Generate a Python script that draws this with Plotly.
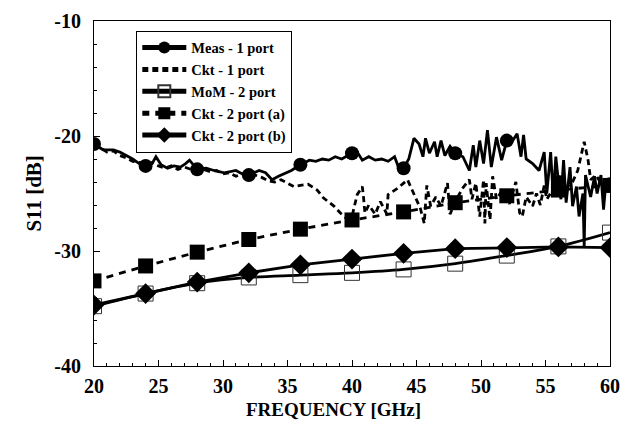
import plotly.graph_objects as go

# ---- data -------------------------------------------------------------
# Measured one-port return loss (dense sweep), GHz / dB
meas_f = [20.0, 20.7, 21.5, 22.0, 22.5, 23.0, 23.5, 24.0, 24.5, 24.8, 25.2, 25.7,
          26.2, 26.7, 27.1, 27.4, 28.0, 28.7, 29.3, 30.1, 31.0, 31.5, 32.0, 32.8,
          33.3, 33.8, 34.3, 34.9, 35.3, 36.0, 36.7, 37.2, 37.7, 38.2, 38.7, 39.2,
          40.0, 40.3, 40.8, 41.3, 41.8, 42.3, 42.8, 43.3, 43.6, 44.0, 44.4, 44.8,
          45.2, 45.5, 45.7, 46.0, 46.4, 46.6, 46.9, 47.2, 47.6, 48.0, 48.6, 49.1,
          49.4, 49.6, 49.9, 50.2, 50.5, 50.8, 51.2, 51.6, 52.0, 52.4, 52.8, 53.1,
          53.3, 53.5, 54.0, 54.5, 54.9, 55.1, 55.4, 55.6, 55.8, 56.0, 56.2, 56.4,
          56.6, 56.9, 57.1, 57.4, 57.6, 57.9, 58.0, 58.1, 58.5, 58.8, 59.0, 59.3,
          59.5, 59.7, 60.0]
meas_db = [-20.7, -21.2, -21.2, -21.4, -21.7, -22.0, -22.4, -22.6, -22.4, -21.8, -22.5, -22.8,
           -22.6, -22.7, -22.4, -22.1, -22.9, -22.8, -23.0, -23.2, -23.0, -23.3, -23.4, -23.0,
           -23.2, -23.8, -23.5, -23.2, -23.0, -22.5, -22.1, -22.2, -22.0, -22.1, -21.8, -22.0,
           -21.5, -21.2, -22.1, -21.8, -22.1, -22.0, -22.2, -21.8, -22.7, -22.8, -22.0, -20.2,
           -20.7, -21.8, -20.2, -21.5, -20.5, -21.8, -20.4, -21.7, -20.9, -21.5, -21.8, -23.0,
           -20.8, -22.7, -20.4, -22.4, -19.5, -22.7, -20.1, -22.1, -20.4, -20.5, -19.8, -21.8,
           -19.9, -22.0, -22.4, -23.0, -21.4, -25.0, -21.4, -25.3, -21.8, -24.0, -25.5, -22.1,
           -25.8, -22.7, -26.1, -24.4, -27.0, -25.0, -29.6, -23.4, -25.3, -23.5, -25.0, -23.4,
           -26.4, -23.8, -24.2]
meas_mark_f = [20, 24, 28, 32, 36, 40, 44, 48, 52, 56, 60]

# Circuit model, one port (dense sweep)
ckt1_f = [20.0, 20.5, 21.0, 21.5, 22.0, 22.5, 23.0, 23.5, 24.0, 24.5, 25.0, 25.5,
          26.0, 26.5, 27.0, 27.5, 28.0, 28.5, 29.0, 29.5, 30.0, 30.5, 31.0, 31.5,
          32.0, 32.5, 33.0, 33.5, 34.0, 34.5, 35.0, 35.5, 36.0, 36.6, 37.3, 37.8,
          38.6, 39.1, 39.6, 40.0, 40.4, 40.8, 40.9, 41.0, 41.3, 41.8, 42.2, 42.7,
          42.8, 43.6, 44.3, 45.0, 45.3, 45.6, 45.8, 46.1, 46.5, 46.9, 47.4, 47.6,
          48.1, 48.6, 49.1, 49.3, 49.6, 49.9, 50.2, 50.3, 50.4, 50.7, 50.9, 51.2,
          51.6, 52.2, 52.7, 53.0, 53.2, 53.5, 54.0, 54.3, 54.6, 54.9, 55.1, 55.6,
          56.2, 56.7, 57.1, 57.5, 57.8, 58.0, 58.3, 58.5, 58.9, 59.3, 59.7, 60.0]
ckt1_db = [-20.7, -21.0, -21.4, -21.3, -21.7, -21.9, -22.2, -22.3, -22.5, -22.3, -22.6, -22.8,
           -22.6, -22.9, -22.7, -22.9, -23.0, -22.9, -23.1, -23.0, -23.3, -23.2, -23.5, -23.3,
           -23.5, -23.4, -23.6, -23.9, -24.0, -23.8, -24.1, -24.4, -24.3, -24.2, -24.7, -25.4,
           -26.1, -26.7, -27.2, -27.0, -25.1, -24.4, -25.4, -26.7, -26.0, -26.8, -25.7, -26.8,
           -25.1, -24.5, -23.8, -25.5, -26.3, -27.6, -24.3, -26.1, -25.3, -26.1, -24.1, -26.8,
           -25.5, -24.5, -23.8, -25.5, -24.1, -27.0, -23.8, -27.6, -24.1, -27.3, -23.5, -25.5,
           -24.8, -25.9, -24.0, -26.7, -27.0, -25.3, -26.1, -25.0, -26.0, -24.3, -25.5, -24.6,
           -25.2, -24.4, -24.0, -23.0, -21.5, -20.5, -22.1, -23.8, -23.4, -24.1, -24.4, -24.3]

# Two-port results at 4 GHz steps
f4 = [20, 24, 28, 32, 36, 40, 44, 48, 52, 56, 60]
mom2_db = [-34.8, -33.7, -32.8, -32.3, -32.1, -31.9, -31.6, -31.1, -30.4, -29.6, -28.4]
ckt2a_db = [-32.6, -31.3, -30.1, -29.0, -28.1, -27.3, -26.6, -25.8, -25.2, -24.7, -24.3]
ckt2b_db = [-34.7, -33.7, -32.7, -31.9, -31.2, -30.7, -30.2, -29.8, -29.7, -29.65, -29.7]

x_ticks = [20, 25, 30, 35, 40, 45, 50, 55, 60]
y_ticks = [-40, -30, -20, -10]
y_tick_text = ["-40", "-30", "-20", "-10"]

# ---- figure -----------------------------------------------------------
FONT = "Liberation Serif"
black = "#000000"

fig = go.Figure()

# measured sweep: markers only on the 4 GHz points
meas_sizes = [14 if f in meas_mark_f else 0 for f in meas_f]
fig.add_trace(go.Scatter(
    x=meas_f, y=meas_db, mode="lines+markers", name="Meas - 1 port",
    line=dict(color=black, width=2.8),
    marker=dict(symbol="circle", size=meas_sizes, color=black, opacity=1,
                line=dict(width=0)),
))
fig.add_trace(go.Scatter(
    x=ckt1_f, y=ckt1_db, mode="lines", name="Ckt - 1 port",
    line=dict(color=black, width=2.8, dash="6px,4px"),
))
fig.add_trace(go.Scatter(
    x=f4, y=mom2_db, mode="lines+markers", name="MoM - 2 port",
    line=dict(color=black, width=2.8, shape="spline"),
    marker=dict(symbol="square-open", size=15, color="#333333", line=dict(width=1)),
))
fig.add_trace(go.Scatter(
    x=f4, y=ckt2a_db, mode="lines+markers", name="Ckt - 2 port (a)",
    line=dict(color=black, width=2.8, dash="7px,6px"),
    marker=dict(symbol="square", size=15, color=black),
))
fig.add_trace(go.Scatter(
    x=f4, y=ckt2b_db, mode="lines+markers", name="Ckt - 2 port (b)",
    line=dict(color=black, width=2.8),
    marker=dict(symbol="diamond", size=16, color=black),
))

axis_common = dict(
    showgrid=False, zeroline=False, showline=True, linecolor=black, linewidth=1,
    mirror=True, ticks="inside", tickcolor=black, ticklen=6, tickwidth=1,
    tickfont=dict(family=FONT, size=20, color=black, weight="bold"),
)

title_font = dict(family=FONT, size=19, color=black, weight="bold")

fig.update_layout(
    width=630, height=426,
    margin=dict(l=94, r=10, t=18, b=60),
    paper_bgcolor="white", plot_bgcolor="white",
    font=dict(family=FONT, color=black),
    xaxis=dict(
        range=[20, 60], tickvals=x_ticks, ticklabelstandoff=2,
        minor=dict(ticks="inside", dtick=1, ticklen=3, tickcolor=black),
        **axis_common,
    ),
    yaxis=dict(
        range=[-40, -10], tickvals=y_ticks, ticktext=y_tick_text,
        ticklabelstandoff=8,
        minor=dict(ticks="inside", dtick=2, ticklen=3, tickcolor=black),
        **axis_common,
    ),
    annotations=[
        dict(text="FREQUENCY [GHz]", xref="paper", yref="paper",
             x=0.464, y=-0.126, xanchor="center", yanchor="middle",
             showarrow=False, font=title_font),
        dict(text="S11 [dB]", xref="paper", yref="paper", textangle=-90,
             x=-0.118, y=0.5, xanchor="center", yanchor="middle",
             showarrow=False, font=dict(family=FONT, size=21, color=black,
                                        weight="bold")),
    ],
    legend=dict(
        x=0.082, y=0.972, xanchor="left", yanchor="top",
        bgcolor="white", bordercolor=black, borderwidth=1,
        font=dict(family=FONT, size=14.5, color=black, weight="bold"),
        itemsizing="constant", itemwidth=44, tracegroupgap=0,
    ),
    showlegend=True,
)

fig.write_html("out.html")
